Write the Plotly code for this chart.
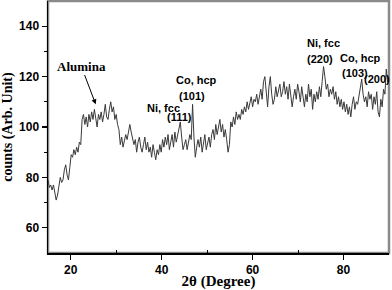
import numpy as np
import plotly.graph_objects as go

# 2-theta from 15 to 90 in 0.3 degree steps
two_theta = [round(15 + 0.3 * i, 1) for i in range(251)]

counts = [
    79, 76, 77, 75, 77, 73, 71, 73, 77, 80,
    78, 79, 83, 85, 81, 79, 84, 89, 88, 91,
    89, 92, 90, 94, 93, 103, 105, 101, 104, 100,
    105, 102, 106, 103, 107, 104, 100, 105, 103, 106,
    102, 105, 109, 104, 103, 107, 110, 106, 108, 103,
    105, 101, 99, 93, 96, 92, 94, 97, 95, 99,
    101, 98, 96, 93, 95, 90, 94, 96, 92, 90,
    93, 96, 91, 94, 90, 92, 88, 93, 90, 87,
    91, 89, 93, 90, 95, 92, 96, 93, 97, 91,
    94, 97, 92, 98, 94, 97, 99, 102, 96, 91,
    93, 95, 91, 94, 97, 95, 109, 96, 88, 92,
    95, 92, 96, 90, 93, 97, 91, 94, 96, 92,
    97, 99, 95, 101, 97, 100, 103, 98, 101, 96,
    99, 95, 90, 93, 102, 100, 104, 101, 106, 103,
    105, 103, 107, 105, 108, 106, 110, 107, 109, 112,
    108, 111, 110, 113, 109, 112, 115, 111, 118, 120,
    114, 108, 116, 120, 113, 109, 111, 116, 112, 115,
    117, 112, 114, 118, 113, 116, 111, 117, 113, 108,
    112, 115, 111, 117, 114, 110, 116, 112, 108, 113,
    110, 117, 112, 115, 107, 113, 110, 114, 111, 116,
    112, 118, 124, 120, 115, 117, 112, 115, 113, 116,
    111, 114, 109, 112, 108, 111, 107, 110, 106, 109,
    105, 108, 104, 109, 112, 107, 110, 109, 113, 117,
    119, 113, 110, 112, 108, 114, 111, 113, 107, 112,
    109, 114, 106, 104, 111, 108, 115, 113, 123, 118,
    120,
]

x_ticks = [20, 40, 60, 80]
y_ticks = [60, 80, 100, 120, 140]

# peak labels: (text, x, y)
peak_labels = [
    ("Ni, fcc", 40.3, 107.5),
    ("(111)", 44.0, 103.8),
    ("Co, hcp", 47.7, 118.6),
    ("(101)", 46.6, 112.3),
    ("Ni, fcc", 75.7, 133.3),
    ("(220)", 74.8, 126.9),
    ("Co, hcp", 83.8, 127.3),
    ("(103)", 82.5, 121.4),
    ("(200)", 87.3, 119.0),
]

fig = go.Figure()
fig.add_trace(go.Scatter(
    x=two_theta, y=counts, mode="lines",
    line=dict(color="#3a3a3a", width=1),
    hoverinfo="skip", showlegend=False,
))

sans = dict(family="Liberation Sans, Arial, sans-serif", size=11, color="black", weight="bold")
serif = dict(family="Liberation Serif, Times New Roman, serif", color="black", weight="bold")

for text, x, y in peak_labels:
    fig.add_annotation(x=x, y=y, text=text, showarrow=False, font=sans,
                       xanchor="center", yanchor="middle")

fig.add_annotation(
    x=25.5, y=109.0, ax=22.3, ay=124.2, axref="x", ayref="y",
    text="Alumina", showarrow=True, arrowhead=2, arrowsize=1, arrowwidth=1,
    arrowcolor="black", font=dict(**serif, size=13),
)

# gray frame (top/right)
fig.add_shape(type="rect", xref="paper", yref="paper", x0=0, y0=0, x1=1, y1=1,
              line=dict(color="#8a8a8a", width=2.5), layer="below")

fig.update_xaxes(
    range=[15, 90], tickvals=x_ticks, ticks="outside", ticklen=5, tickwidth=1.2,
    tickcolor="black", showline=True, linecolor="black", linewidth=1.5,
    showgrid=False, zeroline=False,
    tickfont=dict(family="Liberation Sans, Arial, sans-serif", size=12, color="black", weight="bold"),
    minor=dict(tickvals=[30, 50, 70], ticks="inside", ticklen=3, tickcolor="black", tickwidth=1),
    title=dict(text="2θ (Degree)", font=dict(**serif, size=15), standoff=0),
)
fig.update_yaxes(
    range=[50, 150], tickvals=y_ticks, ticks="outside", ticklen=5, tickwidth=1.2,
    tickcolor="black", showline=True, linecolor="black", linewidth=1.5,
    showgrid=False, zeroline=False,
    tickfont=dict(family="Liberation Sans, Arial, sans-serif", size=12, color="black", weight="bold"),
    minor=dict(tickvals=[70, 90, 110, 130], ticks="outside", ticklen=3, tickcolor="black", tickwidth=1),
    title=dict(text="counts (Arb. Unit)", font=dict(**serif, size=14), standoff=4),
)

fig.update_layout(
    width=392, height=290,
    margin=dict(l=48, r=3, t=1, b=37),
    paper_bgcolor="white", plot_bgcolor="white",
)

fig.write_html(
    "out.html",
    config={"displayModeBar": False, "staticPlot": True},
    post_script="document.body.style.margin='0';document.body.style.overflow='hidden';",
)
